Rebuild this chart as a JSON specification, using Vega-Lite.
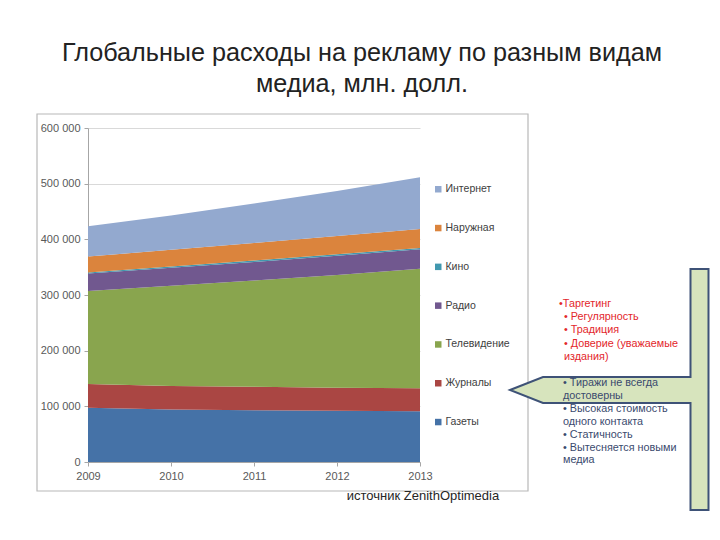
{
  "$schema": "https://vega.github.io/schema/vega-lite/v6.json",
  "width": 332,
  "height": 334,
  "autosize": {"type": "none"},
  "padding": {"left": 88, "top": 128, "right": 300, "bottom": 78},
  "background": "white",
  "config": {"font": "Liberation Sans", "view": {"stroke": null}},
  "title": {
    "text": ["Глобальные расходы на рекламу по разным видам", "медиа, млн. долл."],
    "fontSize": 25.2,
    "fontWeight": "normal",
    "color": "#222222",
    "lineHeight": 31,
    "anchor": "middle",
    "frame": "group",
    "dx": 108,
    "offset": 16
  },
  "layer": [
    {
      "data": {"values": [{}]},
      "mark": {"type": "rect", "fillOpacity": 0, "stroke": "#b8b8b8", "strokeWidth": 1.2},
      "encoding": {
        "x": {"datum": 2008.3855, "type": "quantitative"},
        "x2": {"datum": 2014.3012},
        "y": {"datum": 625147, "type": "quantitative"},
        "y2": {"datum": -52096}
      }
    },
    {
      "data": {
        "values": [
          {"year": 2009, "media": "Газеты", "rank": 1, "value": 97500},
          {"year": 2010, "media": "Газеты", "rank": 1, "value": 94500},
          {"year": 2011, "media": "Газеты", "rank": 1, "value": 93000},
          {"year": 2012, "media": "Газеты", "rank": 1, "value": 92000},
          {"year": 2013, "media": "Газеты", "rank": 1, "value": 91000},
          {"year": 2009, "media": "Журналы", "rank": 2, "value": 42500},
          {"year": 2010, "media": "Журналы", "rank": 2, "value": 42000},
          {"year": 2011, "media": "Журналы", "rank": 2, "value": 42000},
          {"year": 2012, "media": "Журналы", "rank": 2, "value": 41500},
          {"year": 2013, "media": "Журналы", "rank": 2, "value": 41500},
          {"year": 2009, "media": "Телевидение", "rank": 3, "value": 167000},
          {"year": 2010, "media": "Телевидение", "rank": 3, "value": 180000},
          {"year": 2011, "media": "Телевидение", "rank": 3, "value": 191000},
          {"year": 2012, "media": "Телевидение", "rank": 3, "value": 202500},
          {"year": 2013, "media": "Телевидение", "rank": 3, "value": 214500},
          {"year": 2009, "media": "Радио", "rank": 4, "value": 31500},
          {"year": 2010, "media": "Радио", "rank": 4, "value": 32500},
          {"year": 2011, "media": "Радио", "rank": 4, "value": 33500},
          {"year": 2012, "media": "Радио", "rank": 4, "value": 34500},
          {"year": 2013, "media": "Радио", "rank": 4, "value": 35000},
          {"year": 2009, "media": "Кино", "rank": 5, "value": 2000},
          {"year": 2010, "media": "Кино", "rank": 5, "value": 2200},
          {"year": 2011, "media": "Кино", "rank": 5, "value": 2300},
          {"year": 2012, "media": "Кино", "rank": 5, "value": 2500},
          {"year": 2013, "media": "Кино", "rank": 5, "value": 2600},
          {"year": 2009, "media": "Наружная", "rank": 6, "value": 28500},
          {"year": 2010, "media": "Наружная", "rank": 6, "value": 30000},
          {"year": 2011, "media": "Наружная", "rank": 6, "value": 31500},
          {"year": 2012, "media": "Наружная", "rank": 6, "value": 33000},
          {"year": 2013, "media": "Наружная", "rank": 6, "value": 34000},
          {"year": 2009, "media": "Интернет", "rank": 7, "value": 54500},
          {"year": 2010, "media": "Интернет", "rank": 7, "value": 61500},
          {"year": 2011, "media": "Интернет", "rank": 7, "value": 71000},
          {"year": 2012, "media": "Интернет", "rank": 7, "value": 81000},
          {"year": 2013, "media": "Интернет", "rank": 7, "value": 93000}
        ]
      },
      "mark": {"type": "area", "interpolate": "linear", "opacity": 1},
      "encoding": {
        "x": {
          "field": "year",
          "type": "quantitative",
          "scale": {"domain": [2009, 2013], "nice": false, "zero": false},
          "axis": {
            "title": null,
            "values": [2009, 2010, 2011, 2012, 2013],
            "format": "d",
            "grid": false,
            "domainColor": "#a6a6a6",
            "tickColor": "#a6a6a6",
            "tickSize": 4,
            "labelFontSize": 11,
            "labelColor": "#595959",
            "labelPadding": 4,
            "labelFlush": false
          }
        },
        "y": {
          "field": "value",
          "type": "quantitative",
          "stack": "zero",
          "scale": {"domain": [0, 600000], "nice": false},
          "axis": {
            "title": null,
            "values": [0, 100000, 200000, 300000, 400000, 500000, 600000],
            "labelExpr": "replace(format(datum.value, ','), ',', ' ')",
            "grid": true,
            "gridColor": "#d9d9d9",
            "domainColor": "#a6a6a6",
            "tickColor": "#a6a6a6",
            "tickSize": 4,
            "labelFontSize": 11,
            "labelColor": "#595959",
            "labelPadding": 4
          }
        },
        "color": {
          "field": "media",
          "type": "nominal",
          "scale": {
            "domain": ["Интернет", "Наружная", "Кино", "Радио", "Телевидение", "Журналы", "Газеты"],
            "range": ["#93A9CF", "#DB843D", "#4198AF", "#71588F", "#89A54E", "#AA4643", "#4572A7"]
          },
          "legend": {
            "orient": "none",
            "legendX": 345,
            "legendY": 56,
            "title": null,
            "symbolType": "square",
            "symbolSize": 42,
            "symbolOpacity": 1,
            "symbolStrokeWidth": 0,
            "labelFontSize": 10.5,
            "labelColor": "#404040",
            "labelOffset": 2,
            "rowPadding": 27.8,
            "padding": 0
          }
        },
        "order": {"field": "rank", "type": "quantitative"}
      }
    },
    {
      "data": {"values": [{}]},
      "mark": {
        "type": "point",
        "shape": "M-0.796,0.004 L-0.532,-0.1 L0.648,-0.1 L0.648,-0.964 L0.792,-0.964 L0.792,0.964 L0.648,0.964 L0.648,0.108 L-0.532,0.108 Z",
        "size": 62500,
        "filled": true,
        "fill": "#d7e4bd",
        "stroke": "#3e5277",
        "strokeWidth": 2,
        "opacity": 1
      },
      "encoding": {
        "x": {"datum": 2015.2831, "type": "quantitative"},
        "y": {"datum": 130239, "type": "quantitative"}
      }
    },
    {
      "data": {"values": [{}]},
      "mark": {
        "type": "text",
        "text": "•Таргетинг",
        "align": "left",
        "baseline": "top",
        "fontSize": 10.8,
        "color": "#e3262b"
      },
      "encoding": {
        "x": {"datum": 2014.6747, "type": "quantitative"},
        "y": {"datum": 295149, "type": "quantitative"}
      }
    },
    {
      "data": {"values": [{}]},
      "mark": {
        "type": "text",
        "text": ["• Регулярность", "• Традиция", "• Доверие (уважаемые", "издания)"],
        "align": "left",
        "baseline": "top",
        "fontSize": 10.8,
        "lineHeight": 13.3,
        "color": "#e3262b"
      },
      "encoding": {
        "x": {"datum": 2014.7349, "type": "quantitative"},
        "y": {"datum": 271256, "type": "quantitative"}
      }
    },
    {
      "data": {"values": [{}]},
      "mark": {
        "type": "text",
        "text": ["• Тиражи не всегда", "достоверны", "• Высокая стоимость", "одного контакта", "• Статичность", "• Вытесняется новыми", "медиа"],
        "align": "left",
        "baseline": "top",
        "fontSize": 10.8,
        "lineHeight": 12.9,
        "color": "#3a4a6e"
      },
      "encoding": {
        "x": {"datum": 2014.7229, "type": "quantitative"},
        "y": {"datum": 152694, "type": "quantitative"}
      }
    },
    {
      "data": {"values": [{}]},
      "mark": {
        "type": "text",
        "text": "источник ZenithOptimedia",
        "align": "center",
        "baseline": "alphabetic",
        "fontSize": 13,
        "color": "#262626"
      },
      "encoding": {
        "x": {"datum": 2013.0361, "type": "quantitative"},
        "y": {"datum": -68263, "type": "quantitative"}
      }
    }
  ]
}
